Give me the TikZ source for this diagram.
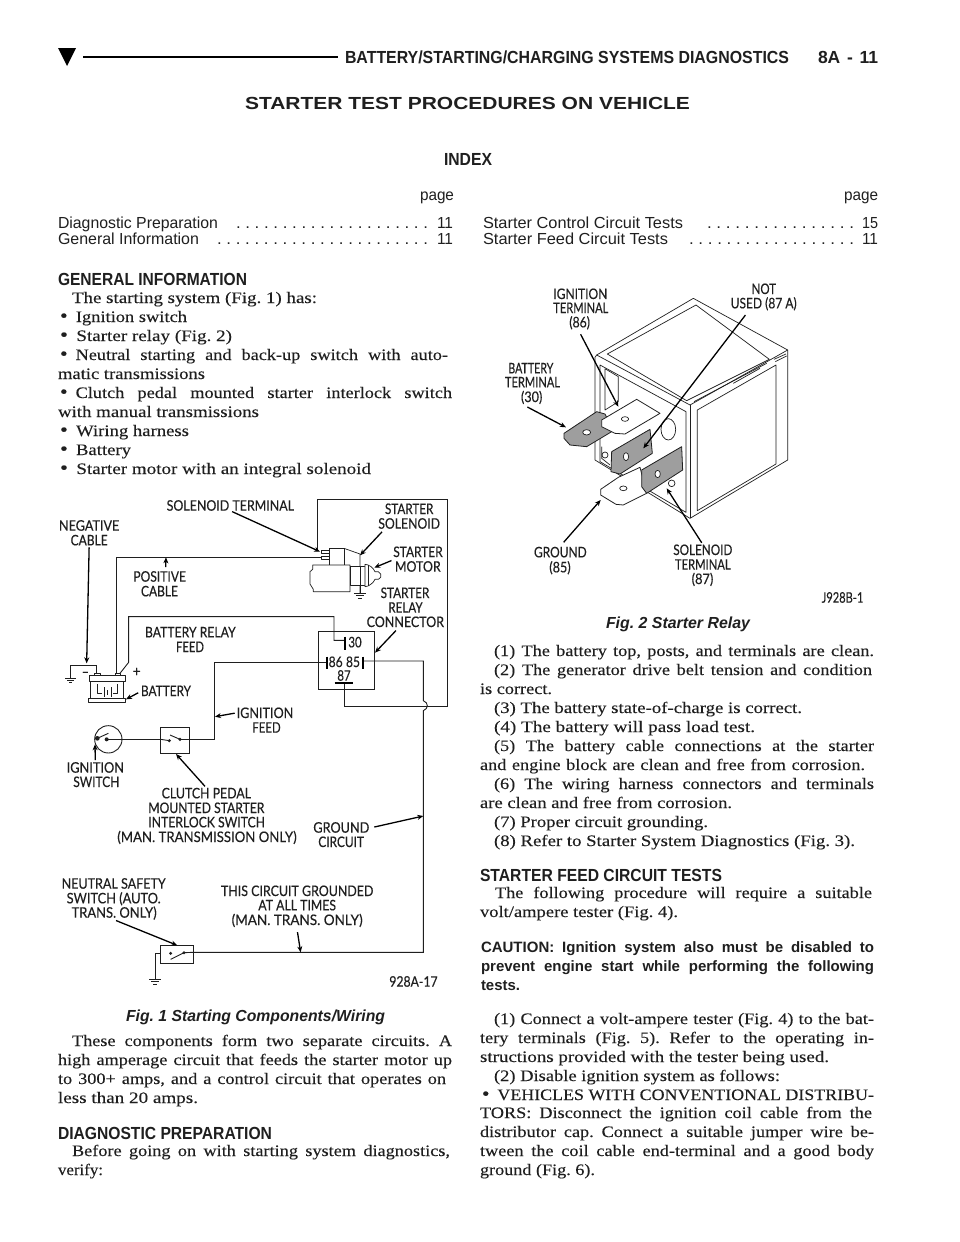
\documentclass[tikz,border=0pt]{standalone}
\usepackage{fontspec}
\usepackage{graphicx}
\usetikzlibrary{arrows.meta}
\setmainfont[FakeStretch=1.14,FakeBold=0.12]{Liberation Serif}
\newfontfamily\hs{Liberation Sans}
\newfontfamily\lbf[FakeBold=0.35]{Lato}
\newsavebox\fitb
\newcounter{tn}
\frenchspacing
\newcommand{\fitto}[2]{\sbox\fitb{#2}\pgfmathsetmacro\fitr{#1/\the\wd\fitb}\scalebox{\fitr}[1]{\usebox\fitb}}
\newcommand{\tl}[5][body]{\stepcounter{tn}\pgfmathsetmacro\tw{#3-#2}\node[txt,#1] (t\arabic{tn}) at (#2,#4) {\fitto{\tw}{#5}};}
\newcommand{\jl}[5][body]{\stepcounter{tn}\pgfmathsetmacro\tw{#3-#2}\node[txt,#1] (t\arabic{tn}) at (#2,#4) {\sbox\fitb{#5}\ifdim\wd\fitb<\tw pt\makebox[\tw pt][s]{#5}\else\fitto{\tw}{#5}\fi};}
\newcommand{\lb}[5]{\pgfmathsetmacro\tw{(#3-#2)/3}\node[txt,lab] (#1) at (#2,#4) {\fitto{\tw}{#5}};}
\newcommand{\bu}{\scalebox{1.2}{•}\hspace{8pt}}
\definecolor{ink}{gray}{0.12}
\tikzset{
  txt/.style={anchor=base west,inner sep=0pt,outer sep=0pt,text=ink},
  body/.style={font=\fontsize{16}{19}\selectfont},
  hd/.style={font=\hs\bfseries\fontsize{17.5}{19}\selectfont},
  sans/.style={font=\hs\fontsize{16}{19}\selectfont},
  caut/.style={font=\hs\bfseries\fontsize{15}{19}\selectfont},
  capt/.style={font=\hs\bfseries\itshape\fontsize{16}{19}\selectfont},
  lab/.style={font=\lbf\fontsize{14.5}{15}\selectfont},
  wire/.style={draw=ink,line width=0.9pt,line join=miter},
  thin part/.style={draw=ink,line width=0.7pt,line join=round},
  bar/.style={draw=black,line width=1.8pt},
  arw/.style={draw=black,line width=1.3pt,shorten <=2pt,-{Stealth[length=6pt,width=5pt]}},
  hatched/.style={draw=ink,line width=0.8pt,fill=black!38,line join=round},
  blank/.style={draw=ink,line width=0.8pt,fill=white,line join=round},
}
\begin{document}
\begin{tikzpicture}[x=1pt,y=-1pt]
\useasboundingbox (0,0) rectangle (960,1242);
\fill[white] (0,0) rectangle (960,1242);
% page header
\fill[black] (58,48) -- (76,48) -- (67,66) -- cycle;
\draw[black,line width=1.6pt] (83,57) -- (338,57);
\tl[hd]{345}{789}{63}{BATTERY/STARTING/CHARGING SYSTEMS DIAGNOSTICS}
\jl[hd]{818}{878}{63}{8A - 11}
\tl[hd]{245}{690}{109}{STARTER TEST PROCEDURES ON VEHICLE}
\tl[hd]{444}{492}{165}{INDEX}
\tl[sans]{420}{454}{200}{page}
\tl[sans]{844}{878}{200}{page}
\tl[sans]{58}{218}{228}{Diagnostic Preparation}
\tl[sans]{236}{428}{228}{. . . . . . . . . . . . . . . . . . . . .}
\tl[sans]{437}{453}{228}{11}
\tl[sans]{58}{199}{244}{General Information}
\tl[sans]{217}{428}{244}{. . . . . . . . . . . . . . . . . . . . . . .}
\tl[sans]{437}{453}{244}{11}
\tl[sans]{483}{683}{228}{Starter Control Circuit Tests}
\tl[sans]{707}{854}{228}{. . . . . . . . . . . . . . . .}
\tl[sans]{862}{878}{228}{15}
\tl[sans]{483}{668}{244}{Starter Feed Circuit Tests}
\tl[sans]{689}{854}{244}{. . . . . . . . . . . . . . . . . .}
\tl[sans]{862}{878}{244}{11}
% left column
\tl[hd]{58}{247}{285}{GENERAL INFORMATION}
\tl{72}{317}{303}{The starting system (Fig. 1) has:}
\tl{60}{187}{322}{\bu Ignition switch}
\tl{60}{232}{341}{\bu Starter relay (Fig. 2)}
\jl{60}{448}{360}{\bu Neutral starting and back-up switch with auto-}
\tl{58}{205}{379}{matic transmissions}
\jl{60}{452}{398}{\bu Clutch pedal mounted starter interlock switch}
\tl{58}{259}{417}{with manual transmissions}
\tl{60}{189}{436}{\bu Wiring harness}
\tl{60}{131}{455}{\bu Battery}
\tl{60}{371}{474}{\bu Starter motor with an integral solenoid}
\tl[capt]{126}{385}{1021}{Fig. 1 Starting Components/Wiring}
\jl{72}{452}{1046}{These components form two separate circuits. A}
\jl{58}{452}{1065}{high amperage circuit that feeds the starter motor up}
\jl{58}{446}{1084}{to 300+ amps, and a control circuit that operates on}
\tl{58}{198}{1103}{less than 20 amps.}
\tl[hd]{58}{272}{1139}{DIAGNOSTIC PREPARATION}
\jl{72}{450}{1156}{Before going on with starting system diagnostics,}
\tl{58}{103}{1175}{verify:}
% right column
\tl[capt]{606}{750}{628}{Fig. 2 Starter Relay}
\jl{494}{874}{656}{(1) The battery top, posts, and terminals are clean.}
\jl{494}{872}{675}{(2) The generator drive belt tension and condition}
\tl{480}{552}{694}{is correct.}
\tl{494}{802}{713}{(3) The battery state-of-charge is correct.}
\tl{494}{755}{732}{(4) The battery will pass load test.}
\jl{494}{874}{751}{(5) The battery cable connections at the starter}
\jl{480}{865}{770}{and engine block are clean and free from corrosion.}
\jl{494}{874}{789}{(6) The wiring harness connectors and terminals}
\tl{480}{732}{808}{are clean and free from corrosion.}
\tl{494}{708}{827}{(7) Proper circuit grounding.}
\tl{494}{855}{846}{(8) Refer to Starter System Diagnostics (Fig. 3).}
\tl[hd]{480}{722}{881}{STARTER FEED CIRCUIT TESTS}
\jl{495}{872}{898}{The following procedure will require a suitable}
\tl{480}{678}{917}{volt/ampere tester (Fig. 4).}
\jl[caut]{481}{874}{952}{CAUTION: Ignition system also must be disabled to}
\jl[caut]{481}{874}{971}{prevent engine start while performing the following}
\tl[caut]{481}{520}{990}{tests.}
\jl{494}{874}{1024}{(1) Connect a volt-ampere tester (Fig. 4) to the bat-}
\jl{480}{874}{1043}{tery terminals (Fig. 5). Refer to the operating in-}
\tl{480}{829}{1062}{structions provided with the tester being used.}
\tl{494}{780}{1081}{(2) Disable ignition system as follows:}
\jl{482}{874}{1100}{\bu VEHICLES WITH CONVENTIONAL DISTRIBU-}
\jl{480}{872}{1118}{TORS: Disconnect the ignition coil cable from the}
\jl{480}{874}{1137}{distributor cap. Connect a suitable jumper wire be-}
\jl{480}{874}{1156}{tween the coil cable end-terminal and a good body}
\tl{480}{595}{1175}{ground (Fig. 6).}

% ---------- Fig. 1 wiring (units: 1/3 px, origin 40,480)
\begin{scope}[shift={(40,480)},x=0.33333pt,y=-0.33333pt]
\lb{solterm}{380}{762}{92}{SOLENOID TERMINAL}
\lb{ss1}{1035}{1180}{102}{STARTER}
\lb{ss2}{1015}{1200}{146}{SOLENOID}
\lb{neg1}{57}{238}{152}{NEGATIVE}
\lb{neg2}{92}{203}{196}{CABLE}
\lb{sm1}{1060}{1208}{231}{STARTER}
\lb{sm2}{1065}{1202}{275}{MOTOR}
\lb{pos1}{280}{438}{305}{POSITIVE}
\lb{pos2}{303}{414}{349}{CABLE}
\lb{src1}{1022}{1168}{354}{STARTER}
\lb{src2}{1045}{1148}{398}{RELAY}
\lb{src3}{980}{1212}{441}{CONNECTOR}
\lb{brf1}{315}{587}{472}{BATTERY RELAY}
\lb{brf2}{408}{492}{516}{FEED}
\lb{r30}{925}{965}{502}{30}
\lb{r86}{866}{908}{561}{86}
\lb{r85}{918}{960}{561}{85}
\lb{r87}{892}{932}{602}{87}
\lb{batt}{303}{453}{648}{BATTERY}
\lb{bminus}{125}{147}{590}{–}
\lb{bplus}{278}{302}{589}{+}
\lb{if1}{590}{760}{714}{IGNITION}
\lb{if2}{637}{722}{758}{FEED}
\lb{is1}{80}{252}{878}{IGNITION}
\lb{is2}{100}{238}{921}{SWITCH}
\lb{cl1}{365}{633}{955}{CLUTCH PEDAL}
\lb{cl2}{325}{673}{999}{MOUNTED STARTER}
\lb{cl3}{325}{675}{1042}{INTERLOCK SWITCH}
\lb{cl4}{232}{770}{1086}{(MAN. TRANSMISSION ONLY)}
\lb{gc1}{820}{988}{1058}{GROUND}
\lb{gc2}{835}{972}{1101}{CIRCUIT}
\lb{ns1}{65}{377}{1226}{NEUTRAL SAFETY}
\lb{ns2}{80}{362}{1270}{SWITCH (AUTO.}
\lb{ns3}{95}{350}{1313}{TRANS. ONLY)}
\lb{tc1}{543}{1000}{1248}{THIS CIRCUIT GROUNDED}
\lb{tc2}{655}{888}{1291}{AT ALL TIMES}
\lb{tc3}{575}{968}{1335}{(MAN. TRANS. ONLY)}
\lb{code1}{1048}{1193}{1520}{928A-17}
% wires
\draw[wire] (833,210) -- (833,57) -- (1222,57) -- (1222,678) -- (913,678) -- (913,610);
\draw[wire] (865,232) -- (230,232) -- (230,582);
\draw[wire] (240,580) -- (266,547) -- (266,410) -- (882,410) -- (882,481) -- (915,481);
\draw[wire] (523,548) -- (860,548);
\draw[wire] (205,778) -- (362,778);
\draw[wire] (448,778) -- (523,778) -- (523,548);
\draw[wire] (968,543) -- (1150,543) -- (1150,662) .. controls (1166,668) and (1166,686) .. (1150,692) -- (1150,1417) -- (460,1417);
\draw[wire] (170,582) -- (170,556) -- (92,556) -- (92,595);
\draw[wire] (75,595) -- (109,595) (82,602) -- (102,602) (88,608) -- (96,608);
\draw[wire] (362,1420) -- (345,1420) -- (345,1498);
\draw[wire] (327,1498) -- (363,1498) (333,1505) -- (357,1505) (339,1512) -- (351,1512);
% relay box and bars
\draw[wire] (836,454) rectangle (1003,628);
\draw[bar] (915,470) -- (915,510);
\draw[bar] (860,530) -- (860,566);
\draw[bar] (968,530) -- (968,566);
\draw[bar] (884,610) -- (938,610);
% starter
\draw[thin part,fill=white] (867,205) -- (912,205) -- (912,255) -- (867,255) -- cycle;
\draw[thin part,fill=white] (845,210) rectangle (867,220);
\draw[thin part,fill=white] (845,228) rectangle (867,237);
\draw[thin part] (912,205) -- (960,222) -- (960,340);
\draw[thin part] (942,340) -- (978,340) (948,347) -- (972,347) (954,354) -- (966,354);
\draw[thin part,fill=white] (818,255) -- (930,255) -- (930,335) -- (820,335) -- (820,328) -- (810,312) -- (810,275) -- (818,268) -- cycle;
\draw[thin part,fill=white] (930,260) rectangle (975,315);
\draw[thin part] (960,260) -- (960,340);
\draw[thin part,fill=white] (975,253) .. controls (985,253) and (1000,262) .. (1005,275) -- (1015,275) -- (1022,282) -- (1022,292) -- (1015,298) -- (1005,298) .. controls (1000,310) and (985,320) .. (975,320) -- cycle;
\draw[thin part] (985,256) -- (985,318);
% battery
\draw[thin part,fill=white] (163,580) rectangle (180,587);
\draw[thin part,fill=white] (225,580) rectangle (242,587);
\draw[thin part,fill=white] (147,587) rectangle (257,603);
\draw[thin part] (152,603) -- (152,655) (250,603) -- (250,655);
\draw[thin part,fill=white] (145,655) rectangle (257,668);
\draw[thin part] (172,612) -- (172,640) -- (186,640) (233,612) -- (233,640) -- (219,640);
\draw[thin part] (192,622) -- (192,652) (203,630) -- (203,646) (213,622) -- (213,652);
% ignition switch
\draw[wire] (205,778) circle[radius=41];
\fill[ink] (200,778) circle[radius=6];
\fill[ink] (172,775) circle[radius=7];
\draw[wire] (172,775) -- (205,760);
% clutch switch
\draw[wire,fill=white] (362,742) rectangle (448,820);
\fill[ink] (388,782) circle[radius=5];
\fill[ink] (420,778) circle[radius=5];
\draw[wire] (390,765) -- (420,778);
\draw[wire] (362,778) -- (388,782);
\draw[wire] (420,778) -- (448,778);
% neutral switch
\draw[wire,fill=white] (362,1397) rectangle (460,1450);
\fill[ink] (392,1420) circle[radius=5];
\fill[ink] (432,1418) circle[radius=5];
\draw[wire] (392,1438) -- (432,1418);
\draw[wire] (432,1418) -- (460,1417);
% arrows
\coordinate (tgtNeg) at (140,550);
\coordinate (tgtSol) at (840,215);
\coordinate (tgtSs) at (960,226);
\coordinate (tgtSm) at (1003,263);
\coordinate (tgtPos) at (378,232);
\coordinate (tgtSrc) at (1005,518);
\coordinate (tgtBatt) at (258,658);
\coordinate (tgtIf) at (525,710);
\coordinate (tgtIs) at (165,793);
\coordinate (tgtCl) at (408,822);
\coordinate (tgtGc) at (1150,1008);
\coordinate (tgtNs) at (412,1396);
\coordinate (tgtTc) at (782,1417);
\draw[arw] (neg2.south) -- (tgtNeg);
\draw[arw] (solterm.south) -- (tgtSol);
\draw[arw] (ss2.south west) ++(15,5) -- (tgtSs);
\draw[arw] (sm1.south west) ++(0,8) -- (tgtSm);
\draw[arw] ([xshift=6pt,yshift=2pt]pos1.north) -- (tgtPos);
\draw[arw] ([xshift=-8pt,yshift=-2pt]src3.south) -- (tgtSrc);
\draw[arw] ([xshift=-1pt,yshift=-1pt]batt.west) -- (tgtBatt);
\draw[arw] (if1.west) -- (tgtIf);
\draw[arw] (is1.north) -- (tgtIs);
\draw[arw] (cl1.north) -- (tgtCl);
\draw[arw] ([xshift=3pt]gc1.east) -- (tgtGc);
\draw[arw] (ns3.south) -- (tgtNs);
\draw[arw] ([yshift=-3pt]tc3.south) -- (tgtTc);
\end{scope}

% ---------- Fig. 2 relay (units: 1/3 px, origin 490,270)
\begin{scope}[shift={(490,270)},x=0.33333pt,y=-0.33333pt]
\lb{it1}{190}{352}{87}{IGNITION}
\lb{it2}{190}{355}{129}{TERMINAL}
\lb{it3}{238}{300}{172}{(86)}
\lb{nu1}{785}{858}{72}{NOT}
\lb{nu2}{722}{920}{115}{USED (87 A)}
\lb{bt1}{55}{190}{310}{BATTERY}
\lb{bt2}{45}{210}{352}{TERMINAL}
\lb{bt3}{93}{157}{396}{(30)}
\lb{gr1}{132}{290}{862}{GROUND}
\lb{gr2}{178}{242}{907}{(85)}
\lb{st1}{550}{727}{855}{SOLENOID}
\lb{st2}{555}{722}{899}{TERMINAL}
\lb{st3}{605}{670}{942}{(87)}
\lb{code2}{995}{1120}{998}{J928B-1}
% body
\draw[thin part] (320,255) -- (610,85) -- (893,240) -- (893,570) -- (600,745) -- (315,570) -- (315,262) -- cycle;
\draw[thin part] (320,255) -- (600,405) -- (893,240);
\draw[thin part] (600,405) -- (600,745);
\draw[thin part] (352,252) -- (618,105) -- (838,268) -- (590,392) -- cycle;
\draw[thin part] (622,420) -- (858,285) -- (858,582) -- (622,722) -- cycle;
\draw[thin part] (852,268) -- (888,252) (856,275) -- (890,258);
\draw[thin part] (612,395) -- (830,280) (730,340) -- (810,295);
\draw[thin part] (330,285) -- (588,425) -- (588,727) -- (330,575) -- cycle;
\draw[thin part] (345,296) -- (385,320) -- (385,395) -- (345,420) -- cycle;
\draw[thin part] (335,530) -- (335,565) -- (360,585);
\draw[thin part] (345,555) circle[radius=9];
\draw[thin part] (535,478) ellipse[x radius=22,y radius=32];
\draw[thin part] (545,640) circle[radius=10];
% terminals
\draw[hatched] (365,545) -- (480,478) -- (487,550) -- (390,612) -- (363,605) -- cycle;
\draw[thin part,fill=white] (408,560) ellipse[x radius=8,y radius=12];
\draw[hatched] (222,490) -- (320,425) -- (345,432) -- (370,482) -- (290,530) -- (240,525) -- (222,505) -- cycle;
\draw[thin part,fill=white] (290,487) ellipse[x radius=12,y radius=8];
\draw[blank] (335,450) -- (440,388) -- (510,430) -- (405,492) -- (375,490) -- (335,470) -- cycle;
\draw[thin part,fill=white] (405,447) ellipse[x radius=11,y radius=7];
\draw[blank] (332,658) -- (385,622) -- (450,592) -- (470,670) -- (400,705) -- (378,703) -- (332,675) -- cycle;
\draw[thin part,fill=white] (400,655) ellipse[x radius=11,y radius=7];
\draw[hatched] (455,600) -- (575,530) -- (578,600) -- (470,670) -- (455,650) -- cycle;
\draw[thin part,fill=white] (503,612) ellipse[x radius=8,y radius=11];
% arrows
\coordinate (tgtIt) at (385,410);
\coordinate (tgtNu) at (460,535);
\coordinate (tgtBt) at (228,472);
\coordinate (tgtGr) at (332,690);
\coordinate (tgtSt) at (530,655);
\draw[arw] ([yshift=-3pt]it3.south) -- (tgtIt);
\draw[arw] ([xshift=-17pt,yshift=-3pt]nu2.south) -- (tgtNu);
\draw[arw] ([xshift=-6pt,yshift=-2pt]bt3.south) -- (tgtBt);
\draw[arw] ([xshift=2pt,yshift=3pt]gr1.north) -- (tgtGr);
\draw[arw] (st1.north) -- (tgtSt);
\end{scope}
\end{tikzpicture}
\end{document}
